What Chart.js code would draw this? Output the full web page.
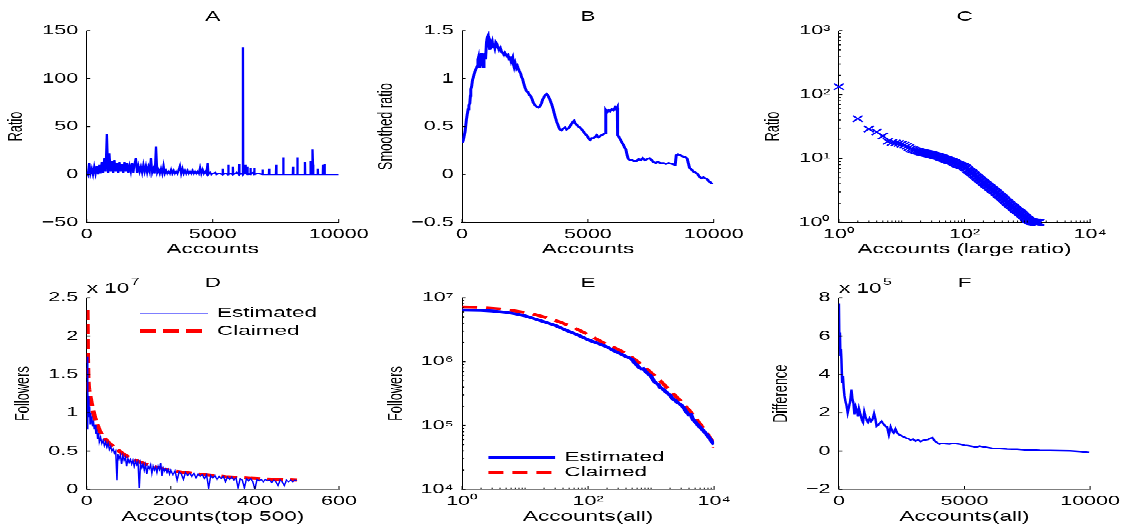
<!DOCTYPE html>
<html><head><meta charset="utf-8"><title>Followers ratio figure</title>
<script src="https://cdn.jsdelivr.net/npm/chart.js@4.4.1/dist/chart.umd.min.js"></script>
<style>
html,body{margin:0;padding:0;background:#fff;overflow:hidden;}
body{width:1126px;height:527px;position:relative;}
#fig{position:absolute;left:0;top:0;width:1126px;height:843px;transform:scaleY(0.625);transform-origin:0 0;overflow:hidden;}
#fig canvas{position:absolute;}
</style></head>
<body><div id="fig">
<canvas id="chartA"></canvas><canvas id="chartB"></canvas><canvas id="chartC"></canvas>
<canvas id="chartD"></canvas><canvas id="chartE"></canvas><canvas id="chartF"></canvas>
</div>
<script>
// ---------------- DATA ----------------
// A: ratio per account, [account, ratio]
const ratioA = [[0,3],[50,0],[100,12],[150,1],[200,6],[250,0],[300,8],[350,1],[400,9],[450,0],
 [500,10],[550,1],[600,13],[650,2],[700,17],[750,3],[800,42],[850,2],[900,22],[950,3],
 [1000,14],[1050,2],[1100,15],[1150,3],[1200,12],[1250,2],[1300,13],[1350,3],[1400,11],[1450,2],
 [1500,13],[1550,3],[1600,12],[1650,2],[1700,9],[1750,3],[1800,12],[1850,2],[1900,11],[1950,17],
 [2000,2],[2050,9],[2100,3],[2150,8],[2200,2],[2250,10],[2300,3],[2350,9],[2400,2],[2450,8],
 [2500,3],[2550,17],[2600,2],[2650,6],[2700,1],[2750,29],[2800,2],[2850,5],[2900,1],[2950,6],
 [3000,1],[3050,9],[3100,1],[3150,4],[3200,1],[3250,3],[3300,1],[3350,5],[3400,1],[3450,4],
 [3500,1],[3550,3],[3600,1],[3650,5],[3700,9],[3750,1],[3800,6],[3850,1],[3900,4],[3950,1],
 [4000,4],[4050,1],[4100,3],[4150,1],[4200,4],[4250,1],[4300,3],[4350,1],[4400,3],[4450,1],
 [4500,7],[4550,1],[4600,5],[4650,1],[4700,3],[4750,1],[4800,12],
 [4830,0],[4900,2],[4950,0],[5000,1],[5100,2],[5150,0],[5250,1],[5390,0],[5400,6],[5410,0],
 [5500,1],[5610,0],[5620,10],[5630,0],[5700,1],[5790,0],[5800,8],[5810,0],[5900,1],[5950,2],
 [6040,0],[6050,11],[6060,0],[6150,1],[6190,0],[6200,133],[6210,0],[6280,2],[6300,10],[6310,1],
 [6370,0],[6380,8],[6390,1],[6490,0],[6500,7],[6510,1],[6600,2],[6640,0],[6650,7],[6660,0],
 [6800,1],[6970,0],[6980,5],[6990,0],[7230,0],[7240,6],[7250,0],[7510,0],[7520,10],[7530,0],
 [7790,0],[7800,18],[7810,0],[8180,0],[8190,8],[8200,0],[8350,0],[8360,18],[8370,0],[8650,0],
 [8660,13],[8670,0],[8870,0],[8880,14],[8890,0],[8950,0],[8960,26],[8980,10],[8990,0],[9160,0],
 [9170,6],[9180,0],[9370,0],[9380,10],[9390,0],[9430,0],[9440,11],[9450,0],[10000,0]];

// B: smoothed ratio, [account, value]
const smoothedB = [[0,0.33],[40,0.35],[80,0.40],[120,0.45],[170,0.57],[200,0.62],[240,0.68],[270,0.72],[305,0.74],[330,0.82],
 [345,0.89],[380,0.92],[410,0.98],[450,1.02],[505,1.07],[550,1.10],[600,1.13],[630,1.20],[650,1.22],[680,1.12],
 [700,1.18],[730,1.20],[770,1.27],[800,1.15],[840,1.12],[870,1.20],[900,1.27],[930,1.20],[970,1.38],[1000,1.43],
 [1035,1.45],[1070,1.35],[1100,1.30],[1130,1.38],[1170,1.35],[1200,1.38],[1230,1.33],[1260,1.36],[1300,1.32],[1340,1.38],
 [1370,1.37],[1420,1.33],[1470,1.30],[1520,1.32],[1570,1.28],[1610,1.27],[1660,1.25],[1700,1.27],[1770,1.24],[1820,1.25],
 [1870,1.20],[1900,1.23],[1950,1.18],[2010,1.22],[2040,1.15],[2070,1.12],[2110,1.16],[2160,1.11],[2200,1.13],[2270,1.08],
 [2320,1.06],[2360,1.02],[2400,1.00],[2460,0.94],[2510,0.90],[2560,0.87],[2620,0.86],[2670,0.83],[2720,0.82],[2760,0.80],
 [2830,0.75],[2900,0.72],[2960,0.71],[3030,0.70],[3090,0.71],[3150,0.74],[3200,0.78],[3280,0.82],[3360,0.84],[3420,0.82],
 [3490,0.78],[3550,0.74],[3600,0.70],[3690,0.61],[3760,0.55],[3820,0.51],[3880,0.47],[3950,0.46],[4020,0.48],[4090,0.49],
 [4150,0.47],[4220,0.48],[4280,0.50],[4330,0.52],[4400,0.55],[4450,0.56],[4500,0.53],[4550,0.52],[4620,0.50],[4690,0.49],
 [4750,0.47],[4820,0.45],[4900,0.42],[4980,0.40],[5040,0.37],[5090,0.36],[5150,0.38],[5220,0.38],[5280,0.39],[5350,0.41],
 [5420,0.39],[5480,0.40],[5550,0.41],[5620,0.42],[5700,0.43],[5710,0.67],[5760,0.65],[5820,0.67],[5880,0.66],[5950,0.68],
 [6010,0.67],[6080,0.70],[6130,0.68],[6170,0.70],[6180,0.41],[6240,0.39],[6300,0.36],[6360,0.33],[6410,0.31],[6460,0.28],
 [6510,0.26],[6560,0.20],[6610,0.16],[6680,0.15],[6740,0.15],[6820,0.14],[6940,0.14],[7020,0.16],[7100,0.15],[7180,0.17],
 [7270,0.15],[7350,0.16],[7450,0.17],[7530,0.15],[7610,0.13],[7700,0.12],[7770,0.13],[7880,0.12],[8010,0.12],[8100,0.11],
 [8210,0.12],[8330,0.11],[8470,0.10],[8510,0.20],[8580,0.21],[8670,0.20],[8760,0.19],[8870,0.18],[8940,0.17],[8990,0.12],
 [9040,0.07],[9120,0.05],[9200,0.03],[9270,0.02],[9340,0.01],[9420,-0.02],[9510,-0.04],[9590,-0.03],[9670,-0.04],[9740,-0.05],
 [9800,-0.07],[9870,-0.08],[9930,-0.10]];

// C: accounts with large ratio, [rank, ratio]
const ratioC = [[1,133],[2,42],[3,29],[4,26],[5,22.5],[6,18.5],[7,17.8],[8,17.5],[9,17.2],[10,16.8],
 [11,16.2],[12,15.5],[13,14.8],[14,14.2],[15,13.8],[16,13.5],[17,13.2],[18,13.0],[19,12.8],[20,12.6],
 [21,12.5],[22,12.3],[23,12.2],[24,12.1],[25,12.0],[26,11.9],[27,11.8],[28,11.7],[29,11.6],[30,11.5],
 [31,11.4],[32,11.3],[33,11.2],[34,11.1],[35,11.0],[36,10.9],[37,10.85],[38,10.8],[40,10.6],[41,10.5],
 [42,10.4],[44,10.2],[45,10.15],[46,10.1],[48,9.9],[50,9.8],[51,9.7],[52,9.6],[54,9.5],[55,9.4],
 [57,9.3],[59,9.25],[60,9.2],[62,9.1],[64,9.0],[65,8.9],[68,8.7],[70,8.6],[71,8.5],[74,8.3],
 [76,8.25],[77,8.2],[80,8.0],[82,7.95],[84,7.9],[87,7.8],[89,7.75],[91,7.7],[95,7.6],[97,7.5],
 [99,7.4],[103,7.2],[105,7.1],[107,7.0],[112,6.7],[114,6.6],[116,6.5],[121,6.3],[123,6.2],[126,6.15],
 [131,6.0],[133,5.9],[136,5.8],[142,5.6],[145,5.5],[148,5.4],[154,5.2],[157,5.12],[160,5.05],[167,4.9],
 [170,4.82],[174,4.75],[181,4.6],[184,4.52],[188,4.45],[196,4.3],[200,4.22],[204,4.15],[212,4.05],[216,3.98],
 [221,3.92],[230,3.8],[234,3.74],[239,3.68],[249,3.55],[254,3.5],[259,3.45],[270,3.35],[275,3.3],[281,3.25],
 [292,3.15],[298,3.1],[304,3.05],[316,2.95],[322,2.9],[329,2.85],[342,2.75],[349,2.7],[356,2.66],[370,2.58],
 [377,2.54],[385,2.5],[400,2.42],[408,2.38],[416,2.34],[433,2.26],[441,2.22],[450,2.18],[468,2.1],[477,2.06],
 [487,2.03],[506,1.97],[516,1.94],[526,1.91],[547,1.85],[557,1.82],[568,1.79],[590,1.74],[601,1.71],[613,1.68],
 [636,1.63],[648,1.6],[660,1.58],[685,1.54],[698,1.52],[711,1.5],[737,1.46],[750,1.44],[764,1.42],[792,1.39],
 [806,1.36],[820,1.34],[850,1.3],[865,1.28],[880,1.26],[910,1.22],[925,1.2],[940,1.18],[970,1.15],[985,1.13],
 [1000,1.12],[1030,1.1],[1045,1.09],[1060,1.08],[1090,1.06],[1105,1.05],[1120,1.045],[1150,1.03],[1170,1.028],[1185,1.025],
 [1220,1.02],[1240,1.018],[1260,1.015],[1300,1.01],[1320,1.009],[1340,1.008],[1380,1.005],[1400,1.004],[1420,1.003],[1460,1.0],
 [1480,1.0],[1500,1.0],[1520,1.0],[1540,1.0]];

// D: top 500 accounts, followers in units of 10^7
const rankEstimatedD = [1,2,3,4,5,6,7,8,9,10, 12,14,16,18,20,22,24,26,28,30,
 33,36,39,42,45,48,51,54,57,60, 63,66,69,72,74,77,80,83,86,89,
 92,95,98,101,104,107,110,113,116,119, 122,125,128,131,134,137,140,143,146,149,
 152,155,158,161,164,167,170,173,176,179, 182,185,188,191,194,197,200,205,210,215,
 220,225,230,235,240,245,250,255,260,265, 270,275,280,285,290,295,300,305,310,315,
 320,325,330,335,340,345,350,355,360,365, 370,375,380,385,390,395,400,405,410,415,
 420,425,430,435,440,445,450,455,460,465, 470,475,480,485,490,495,500];
const estimatedD_e7 = [1.73,0.78,1.27,1.05,1.22,0.95,1.08,0.85,1.0,0.88,
 0.95,0.82,0.9,0.78,0.84,0.72,0.78,0.66,0.74,0.62,
 0.68,0.6,0.64,0.57,0.62,0.55,0.6,0.52,0.56,0.5,
 0.53,0.47,0.5,0.12,0.46,0.4,0.45,0.33,0.44,0.38,
 0.42,0.3,0.4,0.35,0.39,0.33,0.38,0.3,0.37,0.32,
 0.36,0.02,0.34,0.28,0.33,0.25,0.32,0.2,0.3,0.27,
 0.32,0.21,0.3,0.25,0.29,0.22,0.3,0.26,0.35,0.17,
 0.28,0.24,0.27,0.22,0.26,0.2,0.25,0.19,0.24,0.12,
 0.23,0.2,0.13,0.22,0.18,0.21,0.17,0.21,0.15,0.2,
 0.17,0.19,0.14,0.19,0.02,0.18,0.15,0.18,0.13,0.17,
 0.14,0.17,0.1,0.16,0.13,0.16,0.12,0.15,0.02,0.14,
 0.12,0.02,0.14,0.11,0.14,0.1,0.0,0.13,0.11,0.13,
 0.1,0.13,0.11,0.12,0.09,0.12,0.1,0.05,0.12,0.1,
 0.05,0.12,0.1,0.12,0.1,0.12,0.11];
const rankClaimedD = [1,2,3,4,5,7,10,13,16,20, 25,30,35,40,50,60,70,80,90,100,
 115,130,145,160,180,200,225,250,275,300, 330,360,390,420,450,480,500];
const claimedD_e7 = [2.34,1.7,1.45,1.35,1.3,1.24,1.15,1.07,1.0,0.92, 0.84,0.77,0.72,0.68,0.62,0.57,0.53,0.49,0.45,0.42,
 0.38,0.35,0.32,0.3,0.27,0.245,0.225,0.21,0.195,0.18, 0.165,0.155,0.145,0.138,0.132,0.126,0.122];

// E: all accounts, followers
const rankEstimatedE = [1,2,3,5,7,10,15,20,30,45, 70,100,150,200,250,300,350,400,450,500,
 550,600,650,700,750,800,900,1000,1100,1200, 1300,1400,1500,1700,1900,2000,2200,2400,2600,2800,
 3000,3300,3600,4000,4300,4600,5000,5500,6000,6500, 7000,7500,8000,8500,9000,9500,10000];
const estimatedE = [6.4e6,6.35e6,6.2e6,5.9e6,5.6e6,5.2e6,4.6e6,4.2e6,3.7e6,3.1e6,
 2.6e6,2.2e6,1.9e6,1.7e6,1.5e6,1.38e6,1.28e6,1.2e6,1.15e6,1.08e6,
 9.5e5,8.8e5,8.0e5,7.7e5,7.8e5,7.2e5,6.4e5,5.9e5,5.0e5,4.6e5,
 4.4e5,3.9e5,3.8e5,3.4e5,3.1e5,3.0e5,2.6e5,2.5e5,2.3e5,2.2e5,
 2.1e5,1.9e5,1.65e5,1.46e5,1.48e5,1.25e5,1.15e5,1.02e5,9.4e4,8.6e4,
 8.0e4,7.4e4,6.8e4,6.3e4,5.8e4,5.4e4,5.0e4];
const rankClaimedE = [1,2,4,7,12,20,35,60,100,170, 280,450,700,1000,1400,2000,2900,4200,6000,7700, 9000,9600,10000];
const claimedE = [7.2e6,7.05e6,6.7e6,6.2e6,5.7e6,5.0e6,4.2e6,3.4e6,2.65e6,2.0e6,
 1.6e6,1.25e6,9.0e5,6.7e5,5.0e5,3.5e5,2.45e5,1.65e5,1.05e5,7.5e4, 6.0e4,5.2e4,4.5e4];

// F: difference, in units of 10^5
const accountsF = [0,20,40,60,80,100,130,160,190,220, 260,300,350,400,450,500,540,580,620,670,
 720,760,800,860,920,960,1010,1060,1110,1160, 1220,1280,1340,1400,1450,1500,1560,1620,1700,1780,
 1850,1920,1990,2060,2120,2180,2250,2320,2400,2480, 2560,2650,2750,2850,2950,3050,3150,3250,3350,3450,
 3550,3650,3720,3800,3900,4000,4100,4250,4400,4550, 4700,4850,5000,5150,5300,5450,5600,5750,5900,6100,
 6300,6500,6700,6900,7100,7400,7700,8000,8400,8800, 9200,9600,9960];
const differenceF_e5 = [7.7,5.5,6.2,5.0,5.3,4.8,3.6,3.9,3.3,2.9, 2.6,2.4,2.0,2.3,2.6,3.2,2.7,2.5,1.9,2.3,
 2.1,1.8,2.2,1.9,1.6,1.5,2.05,1.8,1.6,1.5, 1.7,1.55,1.65,1.95,1.7,1.3,1.35,1.45,1.55,1.4,
 1.3,1.25,0.85,1.25,1.05,0.95,1.15,0.95,0.85,0.8, 0.75,0.7,0.65,0.58,0.62,0.52,0.58,0.5,0.55,0.58,
 0.6,0.68,0.7,0.55,0.45,0.36,0.4,0.38,0.36,0.4, 0.38,0.35,0.3,0.28,0.25,0.2,0.26,0.22,0.19,0.15,
 0.13,0.12,0.1,0.09,0.09,0.06,0.05,0.035,0.025,0.02, 0.01,-0.02,-0.07];

// Tick values and labels
const linTicks10k = [0, 5000, 10000], linLabels10k = ['0', '5000', '10000'];
const yTicksA = [-50, 0, 50, 100, 150], yLabelsA = ['\u221250', '0', '50', '100', '150'];
const yTicksB = [-0.5, 0, 0.5, 1, 1.5], yLabelsB = ['\u22120.5', '0', '0.5', '1', '1.5'];
const logX4 = [1, 100, 10000], logX4Labels = ['10\u2070', '10\u00B2', '10\u2074'];
const yTicksC = [1, 10, 100, 1000], yLabelsC = ['10\u2070', '10\u00B9', '10\u00B2', '10\u00B3'];
const xTicksD = [0, 200, 400, 600], xLabelsD = ['0', '200', '400', '600'];
const yTicksD = [0, 0.5, 1, 1.5, 2, 2.5], yLabelsD = ['0', '0.5', '1', '1.5', '2', '2.5'];
const yTicksE = [1e4, 1e5, 1e6, 1e7], yLabelsE = ['10\u2074', '10\u2075', '10\u2076', '10\u2077'];
const yTicksF = [-2, 0, 2, 4, 6, 8], yLabelsF = ['\u22122', '0', '2', '4', '6', '8'];

// ---------------- LAYOUT ----------------
const K = 1.6;   // figure is drawn 1.6x taller, then squeezed by CSS (as in the original image)
const FONT = "'Liberation Sans', Arial, Helvetica, sans-serif";
const TICK_SIZE = 21.5, LABEL_SIZE = 22.5, YLABEL_SIZE = 20.5;
const CANVAS_W = 380, X_AXIS_H = 57;
const BLUE = '#0000ff', RED = '#ff0000';
const COLS = [{left: 86.7, width: 252.3}, {left: 462.1, width: 252}, {left: 838.9, width: 251.2}];
const ROWS = [
  {canvasTop: 0, canvasH: 421, titleY: 26.7, top: 49.1, bottom: 355.7},
  {canvasTop: 421, canvasH: 422, titleY: 452.3, top: 476.3, bottom: 782.9}
];

function frame(col, row) {
  const c = COLS[col], r = ROWS[row];
  const canvasLeft = Math.round(c.left - 92);
  const yW = c.left - canvasLeft;
  const padTop = r.titleY - r.canvasTop - 0.6 * LABEL_SIZE;
  const titleBottom = r.top - r.canvasTop - padTop - 1.2 * LABEL_SIZE;
  return {canvasLeft, canvasTop: r.canvasTop, canvasH: r.canvasH, yW, titleBottom,
    padding: {left: 0, top: padTop, right: CANVAS_W - yW - c.width,
      bottom: r.canvasTop + r.canvasH - r.bottom - X_AXIS_H}};
}

function logMinor(lo, hi, extra) {
  const out = [];
  for (let e = lo; e < hi; e++) for (let m = 2; m <= 9; m++) out.push(m * Math.pow(10, e));
  return out.concat(extra || []);
}

function pts(xs, ys) { return xs.map((x, i) => ({x: x, y: ys[i]})); }
function pairPts(pairs) { return pairs.map(p => ({x: p[0], y: p[1]})); }

function scaleOpts(isX, s, f) {
  return {
    type: s.type || 'linear', position: isX ? 'bottom' : 'left',
    min: s.min, max: s.max,
    afterBuildTicks: sc => { sc.ticks = s.values.map(v => ({value: v})); },
    afterFit: sc => { if (isX) sc.height = X_AXIS_H; else sc.width = f.yW; },
    grid: {display: true, drawOnChartArea: false, drawTicks: false},
    border: {display: true, color: '#000', width: isX ? K : 1},
    ticks: {autoSkip: false, maxRotation: 0, minRotation: 0, padding: isX ? 6.4 : 8.5, color: '#000',
      font: {family: FONT, size: TICK_SIZE}, callback: (v, i) => s.labels[i]},
    title: {display: isX, text: s.title, color: '#000',
      font: {family: FONT, size: LABEL_SIZE, lineHeight: 1.2},
      padding: {top: 0, bottom: 0}}
  };
}

function decor(cfg) {
  return {
    id: 'decor',
    afterDraw(chart) {
      const ctx = chart.ctx, a = chart.chartArea, xs = chart.scales.x, ys = chart.scales.y;
      ctx.save();
      ctx.strokeStyle = '#000'; ctx.setLineDash([]);
      const tickX = (v, len) => { const p = xs.getPixelForValue(v); if (p < a.left - 0.5 || p > a.right + 0.5) return;
        ctx.lineWidth = 1; ctx.beginPath(); ctx.moveTo(p, a.bottom); ctx.lineTo(p, a.bottom - len * K); ctx.stroke(); };
      const tickY = (v, len) => { const p = ys.getPixelForValue(v); if (p < a.top - 0.5 || p > a.bottom + 0.5) return;
        ctx.lineWidth = K; ctx.beginPath(); ctx.moveTo(a.left, p); ctx.lineTo(a.left + len, p); ctx.stroke(); };
      xs.ticks.forEach(t => tickX(t.value, 3.5));
      ys.ticks.forEach(t => tickY(t.value, 3.5));
      (cfg.xMinor || []).forEach(v => tickX(v, 2));
      (cfg.yMinor || []).forEach(v => tickY(v, 2));
      ctx.fillStyle = '#000';
      // rotated y-axis title
      ctx.save();
      ctx.translate(a.left - cfg.y.labelOffset, (a.top + a.bottom) / 2);
      ctx.rotate(-Math.PI / 2);
      ctx.font = YLABEL_SIZE + 'px ' + FONT;
      ctx.textAlign = 'center'; ctx.textBaseline = 'middle';
      ctx.fillText(cfg.y.title, 0, 0);
      ctx.restore();
      if (cfg.multiplier) {
        ctx.textAlign = 'left'; ctx.textBaseline = 'alphabetic';
        ctx.font = LABEL_SIZE + 'px ' + FONT;
        const base = 'x 10';
        ctx.fillText(base, a.left, a.top - 8);
        const w = ctx.measureText(base).width;
        ctx.font = '16px ' + FONT;
        ctx.fillText(cfg.multiplier, a.left + w + 1.5, a.top - 20.3);
      }
      if (cfg.legend) {
        const L = cfg.legend;
        chart.data.datasets.forEach((ds, i) => {
          const y = L.fromBottom ? a.bottom - L.rows[i] : a.top + L.rows[i];
          ctx.strokeStyle = ds.borderColor; ctx.lineWidth = L.widths[i];
          ctx.setLineDash(ds.borderDash || []);
          ctx.beginPath(); ctx.moveTo(a.left + L.x0, y); ctx.lineTo(a.left + L.x1, y); ctx.stroke();
          ctx.setLineDash([]);
          ctx.font = LABEL_SIZE + 'px ' + FONT; ctx.textAlign = 'left'; ctx.textBaseline = 'middle';
          ctx.fillText(ds.label, a.left + L.tx, y);
        });
      }
      ctx.restore();
    }
  };
}

function makePanel(id, col, row, cfg) {
  const f = frame(col, row);
  const cv = document.getElementById(id);
  cv.width = CANVAS_W; cv.height = f.canvasH;
  cv.style.left = f.canvasLeft + 'px'; cv.style.top = f.canvasTop + 'px';
  cv.style.width = CANVAS_W + 'px'; cv.style.height = f.canvasH + 'px';
  return new Chart(cv, {
    type: cfg.type || 'line',
    data: {datasets: cfg.datasets},
    options: {
      responsive: false, animation: false, devicePixelRatio: 1,
      layout: {padding: f.padding},
      elements: {point: {radius: 0}, line: {tension: 0}},
      plugins: {
        legend: {display: false}, tooltip: {enabled: false},
        title: {display: true, text: cfg.title, fullSize: false, color: '#000',
          font: {family: FONT, size: LABEL_SIZE, weight: 'normal', lineHeight: 1.2},
          padding: {top: 0, bottom: f.titleBottom}}
      },
      scales: {x: scaleOpts(true, cfg.x, f), y: scaleOpts(false, cfg.y, f)}
    },
    plugins: [decor(cfg)]
  });
}

const lineDs = (label, data, color, width, dash) => ({label: label, data: data, borderColor: color,
  backgroundColor: color, borderWidth: width, borderDash: dash || [], pointRadius: 0, fill: false});

// A
makePanel('chartA', 0, 0, {
  title: 'A',
  datasets: [lineDs('Ratio', pairPts(ratioA), BLUE, 2.3)],
  x: {min: 0, max: 10000, values: linTicks10k, labels: linLabels10k, title: 'Accounts'},
  y: {min: -50, max: 150, values: yTicksA, labels: yLabelsA, title: 'Ratio', labelOffset: 70.7}
});
// B
makePanel('chartB', 1, 0, {
  title: 'B',
  datasets: [lineDs('Smoothed ratio', pairPts(smoothedB), BLUE, 3)],
  x: {min: 0, max: 10000, values: linTicks10k, labels: linLabels10k, title: 'Accounts'},
  y: {min: -0.5, max: 1.5, values: yTicksB, labels: yLabelsB, title: 'Smoothed ratio', labelOffset: 75.7}
});
// C
makePanel('chartC', 2, 0, {
  type: 'scatter', title: 'C',
  datasets: [{label: 'Ratio', data: pairPts(ratioC), pointStyle: 'crossRot', pointRadius: 7,
    borderColor: BLUE, backgroundColor: 'rgba(0,0,0,0)', borderWidth: 2, showLine: false, clip: false}],
  x: {type: 'logarithmic', min: 1, max: 10000, values: logX4, labels: logX4Labels, title: 'Accounts (large ratio)'},
  y: {type: 'logarithmic', min: 1, max: 1000, values: yTicksC, labels: yLabelsC, title: 'Ratio', labelOffset: 65.5},
  xMinor: logMinor(0, 4, [10, 1000]), yMinor: logMinor(0, 3)
});
// D
makePanel('chartD', 0, 1, {
  title: 'D',
  datasets: [lineDs('Estimated', pts(rankEstimatedD, estimatedD_e7), BLUE, 1.5),
             lineDs('Claimed', pts(rankClaimedD, claimedD_e7), RED, 5, [16, 7])],
  x: {min: 0, max: 600, values: xTicksD, labels: xLabelsD, title: 'Accounts(top 500)'},
  y: {min: 0, max: 2.5, values: yTicksD, labels: yLabelsD, title: 'Followers', labelOffset: 63.4},
  multiplier: '7',
  legend: {x0: 53.3, x1: 121.3, tx: 130.3, rows: [24.5, 53.3], fromBottom: false, widths: [1.6, 7]}
});
// E
makePanel('chartE', 1, 1, {
  title: 'E',
  datasets: [lineDs('Estimated', pts(rankEstimatedE, estimatedE), BLUE, 4.5),
             lineDs('Claimed', pts(rankClaimedE, claimedE), RED, 4.5, [15, 9])],
  x: {type: 'logarithmic', min: 1, max: 10000, values: logX4, labels: logX4Labels, title: 'Accounts(all)'},
  y: {type: 'logarithmic', min: 1e4, max: 1e7, values: yTicksE, labels: yLabelsE, title: 'Followers', labelOffset: 65.3},
  xMinor: logMinor(0, 4, [10, 1000]), yMinor: logMinor(4, 7),
  legend: {x0: 26.3, x1: 93, tx: 102.3, rows: [51.2, 27.2], fromBottom: true, widths: [5, 5]}
});
// F
makePanel('chartF', 2, 1, {
  title: 'F',
  datasets: [lineDs('Difference', pts(accountsF, differenceF_e5), BLUE, 2.5)],
  x: {min: 0, max: 10000, values: linTicks10k, labels: linLabels10k, title: 'Accounts(all)'},
  y: {min: -2, max: 8, values: yTicksF, labels: yLabelsF, title: 'Difference', labelOffset: 57.7},
  multiplier: '5'
});
</script></body></html>
